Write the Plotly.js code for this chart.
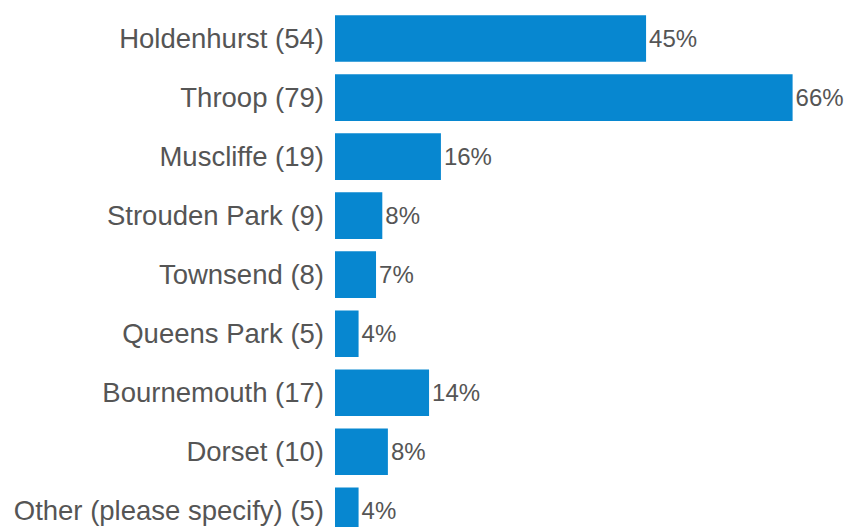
<!DOCTYPE html>
<html>
<head>
<meta charset="utf-8">
<script src="https://cdn.plot.ly/plotly-3.0.1.min.js"></script>
<style>html,body{margin:0;padding:0;background:#fff;}#chart{width:848px;height:527px;}</style>
</head>
<body>
<div id="chart"></div>
<script>
const categories = ["Holdenhurst", "Throop", "Muscliffe", "Strouden Park", "Townsend", "Queens Park", "Bournemouth", "Dorset", "Other (please specify)"];
const counts = [54, 79, 19, 9, 8, 5, 17, 10, 5];
const percents = [45.4, 66.4, 16.0, 7.6, 6.7, 4.2, 14.3, 8.4, 4.2];
const percentLabels = ["45%", "66%", "16%", "8%", "7%", "4%", "14%", "8%", "4%"];

const yLabels = categories.map((c, i) => c + " (" + counts[i] + ")");

const trace = {
  type: "bar",
  orientation: "h",
  y: yLabels,
  x: percents,
  text: percentLabels,
  textposition: "outside",
  cliponaxis: true,
  textfont: {family: "Liberation Sans, Arial, sans-serif", size: 24, color: "#555555"},
  marker: {color: "#0787d0"},
  hoverinfo: "none"
};

const layout = {
  width: 848,
  height: 527,
  margin: {l: 335, r: 0, t: 9, b: 0, pad: 0},
  paper_bgcolor: "#ffffff",
  plot_bgcolor: "#ffffff",
  showlegend: false,
  bargap: 0.21,
  font: {family: "Liberation Sans, Arial, sans-serif", color: "#555555"},
  xaxis: {range: [0.82, 74.34], visible: false, fixedrange: true},
  yaxis: {
    type: "category",
    range: [8.274, -0.5],
    showgrid: false,
    zeroline: false,
    showline: false,
    ticks: "",
    ticklabelstandoff: 10,
    tickfont: {family: "Liberation Sans, Arial, sans-serif", size: 27.5, color: "#555555"},
    automargin: false,
    fixedrange: true
  }
};

Plotly.newPlot("chart", [trace], layout, {displayModeBar: false, staticPlot: true});
</script>
</body>
</html>
